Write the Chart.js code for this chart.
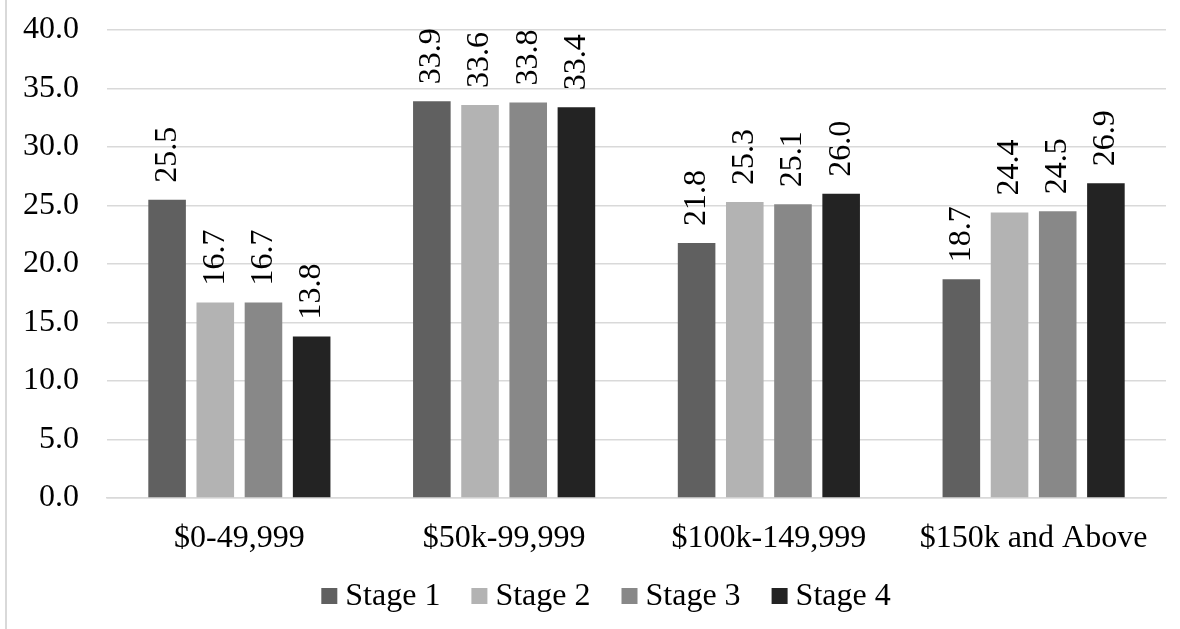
<!DOCTYPE html>
<html>
<head>
<meta charset="utf-8">
<script src="https://cdn.jsdelivr.net/npm/chart.js@4.4.1/dist/chart.umd.min.js"></script>
<style>
  html, body { margin: 0; padding: 0; background: #fff; }
  #wrap { position: relative; width: 1180px; height: 629px; overflow: hidden; }
  #frame { position: absolute; left: 5px; top: 0; width: 2px; height: 629px; background: #d9d9d9; }
  #c { position: absolute; left: 0; top: 0; }
</style>
</head>
<body>
<div id="wrap">
  <canvas id="c" width="1180" height="629"></canvas>
  <div id="frame"></div>
</div>
<script>
const categories = ["$0-49,999", "$50k-99,999", "$100k-149,999", "$150k and Above"];
const seriesNames = ["Stage 1", "Stage 2", "Stage 3", "Stage 4"];
const stage1 = [25.5, 33.9, 21.8, 18.7];
const stage2 = [16.7, 33.6, 25.3, 24.4];
const stage3 = [16.7, 33.8, 25.1, 24.5];
const stage4 = [13.8, 33.4, 26.0, 26.9];
const seriesColors = ["#606060", "#b3b3b3", "#888888", "#232323"];
const yTicks = [0, 5, 10, 15, 20, 25, 30, 35, 40];

const FONT = "'Liberation Serif', 'Times New Roman', serif";
Chart.defaults.font.family = FONT;
Chart.defaults.font.size = 32;
Chart.defaults.color = "#000";

const seriesValues = [stage1, stage2, stage3, stage4];

const datasets = seriesNames.map((name, i) => ({
  label: name,
  data: seriesValues[i],
  backgroundColor: seriesColors[i],
  borderWidth: 0,
  categoryPercentage: 0.728,
  barPercentage: 0.78
}));

const valueLabels = {
  id: 'valueLabels',
  afterDatasetsDraw(chart) {
    const ctx = chart.ctx;
    ctx.save();
    ctx.font = "32px " + FONT;
    ctx.fillStyle = "#000";
    chart.data.datasets.forEach((ds, di) => {
      const meta = chart.getDatasetMeta(di);
      meta.data.forEach((el, i) => {
        const v = ds.data[i];
        ctx.save();
        ctx.translate(el.x, el.y - 17);
        ctx.rotate(-Math.PI / 2);
        ctx.textAlign = 'left';
        ctx.textBaseline = 'middle';
        ctx.fillText(v.toFixed(1), 0, 0);
        ctx.restore();
      });
    });
    ctx.restore();
  }
};

const customLegend = {
  id: 'customLegend',
  afterDraw(chart) {
    const ctx = chart.ctx;
    ctx.save();
    ctx.font = "32px " + FONT;
    const box = 16, gapText = 8, gapItem = 31;
    const items = chart.data.datasets.map(ds => ({
      text: ds.label, color: ds.backgroundColor, w: ctx.measureText(ds.label).width
    }));
    let total = 0;
    items.forEach((it, i) => { total += box + gapText + it.w + (i < items.length - 1 ? gapItem : 0); });
    const centerX = 606, centerY = 596;
    let x = centerX - total / 2;
    items.forEach(it => {
      ctx.fillStyle = it.color;
      ctx.fillRect(x, centerY - box / 2, box, box);
      ctx.fillStyle = "#000";
      ctx.textAlign = 'left';
      ctx.textBaseline = 'middle';
      ctx.fillText(it.text, x + box + gapText, centerY + 1);
      x += box + gapText + it.w + gapItem;
    });
    ctx.restore();
  }
};

new Chart(document.getElementById('c'), {
  type: 'bar',
  data: { labels: categories, datasets },
  options: {
    responsive: false,
    animation: false,
    layout: { padding: { top: 30, right: 14, bottom: 0, left: 0 } },
    plugins: {
      legend: { display: false },
      tooltip: { enabled: false }
    },
    scales: {
      x: {
        grid: { display: false, drawTicks: false },
        border: { display: true, color: "#d9d9d9", width: 1.5 },
        ticks: { padding: 21, maxRotation: 0, autoSkip: false, font: { size: 32 } },
        afterFit(scale) { scale.height = 131; scale.paddingLeft = 0; scale.paddingRight = 0; }
      },
      y: {
        min: 0, max: 40,
        afterBuildTicks(scale) { scale.ticks = yTicks.map(v => ({ value: v })); },
        grid: { color: "#d9d9d9", lineWidth: 1.5, drawTicks: false },
        border: { display: false },
        ticks: {
          padding: 28,
          font: { size: 32 },
          callback: v => Number(v).toFixed(1)
        },
        afterFit(scale) { scale.width = 107; scale.paddingTop = 0; scale.paddingBottom = 0; }
      }
    }
  },
  plugins: [valueLabels, customLegend]
});
</script>
</body>
</html>
